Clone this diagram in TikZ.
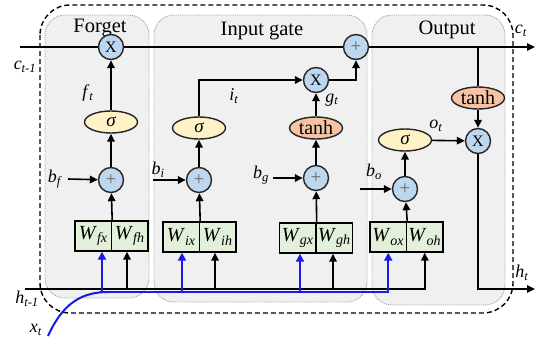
\documentclass[tikz,border=0pt]{standalone}
\usepackage{fontspec}
\setmainfont{Liberation Serif}
\usetikzlibrary{arrows.meta,shapes.geometric}
\definecolor{opcfill}{HTML}{BDD7EE}
\definecolor{sigfill}{HTML}{FFF2C6}
\definecolor{tanhfill}{HTML}{F6C3A4}
\definecolor{wfill}{HTML}{E2EFDA}
\definecolor{panelfill}{HTML}{F0F0F0}
\definecolor{xblue}{HTML}{1A1AE6}
\newcommand\vsub[2]{\textit{#1}\textsubscript{\textit{#2}}}
\begin{document}
\begin{tikzpicture}[x=1pt,y=-1pt,line width=1.6pt,
 arr/.style={-{Triangle[length=8pt,width=7.5pt]}},
 opc/.style={circle,draw=black!85,fill=opcfill,minimum size=25pt,inner sep=0pt,line width=1.4pt},
 sig/.style={ellipse,draw=black!85,fill=sigfill,minimum width=53pt,minimum height=22pt,inner sep=0pt,line width=1.4pt,font=\fontsize{19}{19}\selectfont\itshape},
 tnh/.style={ellipse,draw=black!85,fill=tanhfill,minimum width=53pt,minimum height=22pt,inner sep=0pt,line width=1.4pt,font=\fontsize{20}{20}\selectfont},
 wbox/.style={draw,fill=wfill,minimum width=36.5pt,minimum height=30pt,inner sep=0pt,line width=1.4pt,font=\fontsize{20}{20}\selectfont},
 panel/.style={draw=gray!75,densely dotted,fill=panelfill,rounded corners=20pt,line width=0.9pt},
 lbl/.style={font=\fontsize{18}{18}\selectfont,inner sep=0pt},
 ttl/.style={font=\fontsize{20.5}{20.5}\selectfont,inner sep=0pt,anchor=base},
 mul/.style={opc,font=\fontsize{16}{16}\selectfont},
 addc/.style={opc,font=\fontsize{19}{19}\selectfont,text=black!60},
 xin/.style={draw=xblue,line width=2pt},
 xarr/.style={xin,-{Triangle[length=8pt,width=8pt]},xblue}
]
\useasboundingbox (0,0) rectangle (535,346);
% outer and panels
\draw[panel] (45,15) rectangle (149,298);
\draw[panel] (154,15) rectangle (367,302);
\draw[panel] (372,15) rectangle (505,305);
\draw[line width=1.4pt,dash pattern=on 5pt off 3pt,rounded corners=30pt] (40,5) rectangle (513,313);
% titles
\node[ttl] (tf) at (100,32) {Forget};
\node[ttl] (ti) at (262,35) {Input gate};
\node[ttl] (to) at (447,34) {Output};
% cell state
\coordinate (cL) at (20,47);
\coordinate (cR) at (535,47);
\coordinate (ctap) at (478,47);
\node[mul] (fX) at (111,47) {X};
\node[addc] (add) at (356,47) {+};
\draw (cL) -- (fX);
\draw (fX) -- (add);
\draw[arr] (add) -- (cR);
\node[lbl] (cprev) at (25,67) {\vsub{c}{t-1}};
\node[lbl] (cnow) at (521,31) {\vsub{c}{t}};
% forget gate
\node[sig] (fsig) at (111,122) {σ};
\node[addc] (fadd) at (111,180) {+};
\node[wbox] (fWx) at (93.25,236) {\vsub{W}{fx}};
\node[wbox] (fWh) at (129.75,236) {\vsub{W}{fh}};
\draw[arr] (fsig) -- (fX);
\draw[arr] (fadd) -- (fsig);
\draw[arr] (fWx.north east) -- (fadd);
\node[lbl] (ft) at (88,93) {\vsub{f}{t}};
\node[lbl] (bf) at (55,179) {\vsub{b}{f}};
\coordinate (bfs) at (68,179);
\draw[arr] (bfs) -- (fadd);
% input gate
\node[sig] (isig) at (199,128) {σ};
\node[addc] (iadd) at (199,180) {+};
\node[wbox] (iWx) at (181.25,237) {\vsub{W}{ix}};
\node[wbox] (iWh) at (217.75,237) {\vsub{W}{ih}};
\draw[arr] (iadd) -- (isig);
\draw[arr] (iWx.north east) -- (iadd);
\node[lbl] (bi) at (158,170) {\vsub{b}{i}};
\coordinate (bis) at (153,180);
\draw[arr] (bis) -- (iadd);
\node[mul] (gX) at (316,80) {X};
\node[tnh] (gtanh) at (316,128) {tanh};
\node[addc] (gadd) at (316,178) {+};
\node[wbox] (gWx) at (297.75,238) {\vsub{W}{gx}};
\node[wbox] (gWh) at (334.25,238) {\vsub{W}{gh}};
\draw[arr] (gadd) -- (gtanh);
\draw[arr] (gtanh) -- (gX);
\draw[arr] (gWx.north east) -- (gadd);
\node[lbl] (bg) at (261,175) {\vsub{b}{g}};
\coordinate (bgs) at (273,178);
\draw[arr] (bgs) -- (gadd);
\draw[arr] (isig.north) |- (gX);
\draw[arr] (gX) -| (add);
\node[lbl] (it) at (234,96) {\vsub{i}{t}};
\node[lbl] (gt) at (332,100) {\vsub{g}{t}};
% output gate
\node[sig] (osig) at (405,140) {σ};
\node[addc] (oadd) at (405,189) {+};
\node[wbox] (oWx) at (388.25,237) {\vsub{W}{ox}};
\node[wbox] (oWh) at (424.75,237) {\vsub{W}{oh}};
\draw[arr] (oadd) -- (osig);
\draw[arr] (oWx.north east) -- (oadd);
\node[lbl] (bo) at (374,172) {\vsub{b}{o}};
\coordinate (bos) at (360,189);
\draw[arr] (bos) -- (oadd);
\node[tnh] (otanh) at (478,98) {tanh};
\node[mul] (oX) at (478,141) {X};
\draw (ctap) -- (otanh);
\draw[arr] (otanh) -- (oX);
\draw[arr] (osig) -- (oX);
\node[lbl] (ot) at (436,126) {\vsub{o}{t}};
\coordinate (hR) at (535,289);
\draw[arr] (oX) |- (hR);
\node[lbl] (ht) at (522,273) {\vsub{h}{t}};
% h_{t-1} line
\coordinate (hL) at (25,289);
\node[lbl] (hprev) at (27,299) {\vsub{h}{t-1}};
\draw[arr] (hL) -| (oWh);
\coordinate (hb1) at (127,289);
\coordinate (hb2) at (215,289);
\coordinate (hb3) at (333,289);
\draw[arr] (hb1) -- (hb1 |- fWh.south);
\draw[arr] (hb2) -- (hb2 |- iWh.south);
\draw[arr] (hb3) -- (hb3 |- gWh.south);
% x_t line
\coordinate (xs) at (48,336);
\node[lbl] (xt) at (36,330) {\vsub{x}{t}};
\draw[xin] (xs) .. controls (62,305) and (80,292) .. (108,292);
\draw[xarr] (100,292) -| (oWx);
\coordinate (xb1) at (102,292);
\coordinate (xb2) at (182,292);
\coordinate (xb3) at (300,292);
\draw[xarr] (xb1) -- (xb1 |- fWx.south);
\draw[xarr] (xb2) -- (xb2 |- iWx.south);
\draw[xarr] (xb3) -- (xb3 |- gWx.south);
\end{tikzpicture}
\end{document}
